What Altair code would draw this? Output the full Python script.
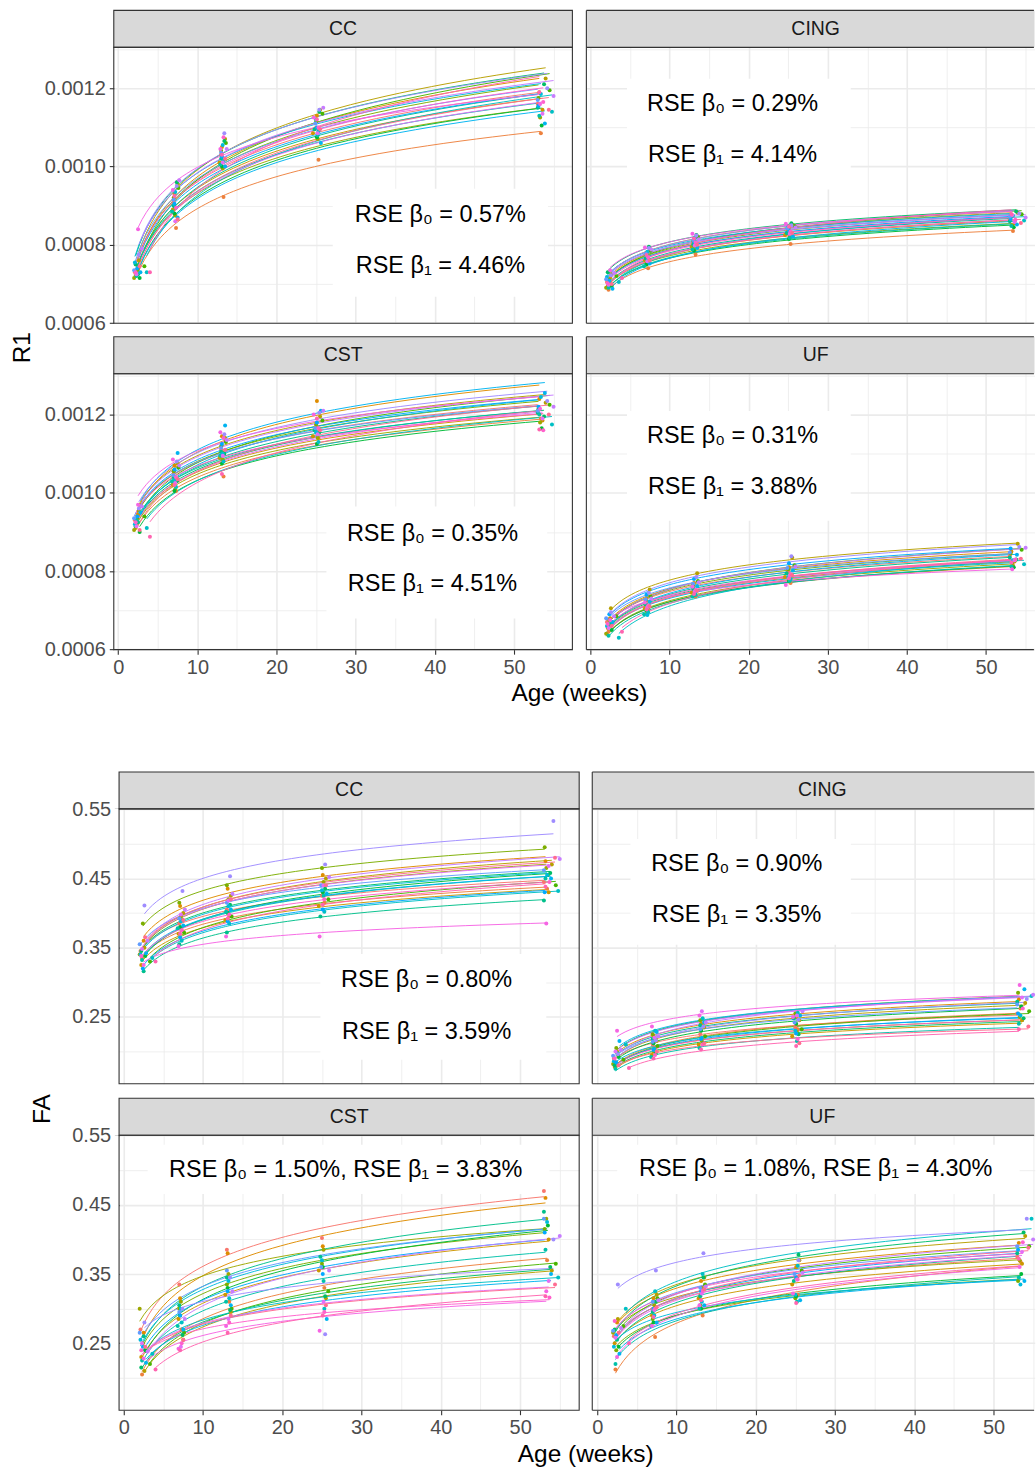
import math
import altair as alt
import pandas as pd

FONT = "Liberation Sans"
SUBJECTS = [f"S{i:02d}" for i in range(1, 25)]

# ages (weeks) of each subject at each visit
AGE_V1 = [2.1, 2.3, 2.5, 2.2, 2.6, 2.0, 2.4, 3.3, 2.7, 2.2, 2.5, 2.3, 3.6, 2.1, 2.8, 2.4, 2.0, 2.6, 3.0, 2.3, 2.5, 2.2, 4.0, 2.7]
AGE_V2 = [7.0, 7.3, 7.1, 6.9, 7.5, 7.2, 7.0, 7.6, 7.1, 7.4, 7.0, 6.8, 7.3, 7.2, 7.5, 7.1, 7.0, 7.4, 7.7, 7.2, 6.9, 7.3, 7.1, 7.5]
AGE_V3 = [13.0, 13.3, 13.1, 12.8, 13.5, 13.2, 13.0, 13.6, 13.1, 13.4, 13.0, 12.9, 13.3, 13.2, 13.5, 13.1, 13.0, 13.4, 13.7, 13.2, 12.9, 13.3, 13.1, 13.5]
AGE_V4 = [25.0, 25.3, 25.1, 24.6, 25.5, 25.2, 25.0, 25.8, 25.1, 25.4, 24.8, 25.2, 25.3, 25.0, 25.6, 25.1, 24.9, 25.4, 25.9, 25.2, 24.7, 25.3, 25.1, 25.5]
AGE_V5 = [53.0, 53.4, 53.2, 53.6, 54.0, 53.3, 53.1, 54.5, 53.5, 53.8, 53.0, 53.2, 54.8, 53.4, 53.9, 53.1, 53.0, 54.2, 55.0, 53.6, 53.3, 53.7, 53.2, 54.4]
VISIT_AGES = [AGE_V1, AGE_V2, AGE_V3, AGE_V4, AGE_V5]

# R1 values in units of 1e-4
R1_UNIT = 1e-4
R1_CC_V1 = [7.30, 7.25, 7.40, 7.20, 7.60, 7.15, 7.35, 7.45, 7.15, 7.50, 7.25, 7.20, 7.30, 7.55, 7.30, 7.40, 7.35, 7.75, 7.90, 7.25, 8.40, 7.30, 7.30, 7.45]
R1_CC_V2 = [9.10, 8.43, 9.30, 8.90, 9.55, 8.75, 9.20, 9.45, 8.80, 9.60, 9.00, 8.85, 8.95, 9.35, 8.70, 9.05, 9.15, 9.50, 9.65, 8.60, 9.40, 8.95, 9.25, 8.65]
R1_CC_V3 = [10.30, 9.22, 10.50, 10.10, 10.70, 9.95, 10.40, 10.60, 10.00, 10.65, 10.20, 10.05, 10.15, 10.55, 10.00, 10.25, 10.35, 10.85, 10.45, 10.10, 10.45, 10.75, 10.30, 10.20]
R1_CC_V4 = [11.00, 10.17, 11.30, 10.85, 11.45, 10.70, 11.15, 11.35, 10.75, 11.40, 10.95, 10.80, 10.90, 11.20, 10.60, 11.00, 11.10, 11.45, 11.50, 10.85, 11.25, 11.00, 11.20, 10.95]
R1_CC_V5 = [11.60, 10.85, 11.90, 11.45, 12.25, 11.25, 11.75, 11.95, 11.05, 12.10, 11.50, 11.30, 11.40, 11.85, 11.10, 11.55, 11.70, 12.00, 11.80, 11.35, 11.60, 11.65, 11.90, 11.45]

R1_CING_V1 = [7.05, 6.85, 7.15, 6.95, 7.25, 6.90, 7.10, 7.20, 6.95, 7.30, 7.00, 6.90, 7.05, 7.18, 6.88, 7.08, 7.12, 7.22, 7.28, 6.98, 7.35, 7.02, 7.15, 7.00]
R1_CING_V2 = [7.70, 7.40, 7.80, 7.60, 7.90, 7.55, 7.75, 7.85, 7.50, 7.95, 7.65, 7.45, 7.62, 7.82, 7.52, 7.72, 7.78, 7.92, 7.88, 7.58, 7.93, 7.68, 7.74, 7.60]
R1_CING_V3 = [8.05, 7.75, 8.15, 7.95, 8.22, 7.90, 8.10, 8.20, 7.85, 8.25, 8.00, 7.88, 8.02, 8.18, 7.92, 8.08, 8.12, 8.24, 8.14, 7.98, 8.28, 8.06, 8.16, 8.00]
R1_CING_V4 = [8.35, 8.02, 8.45, 8.25, 8.52, 8.20, 8.40, 8.48, 8.15, 8.55, 8.30, 8.18, 8.32, 8.46, 8.22, 8.36, 8.42, 8.50, 8.44, 8.28, 8.54, 8.34, 8.47, 8.30]
R1_CING_V5 = [8.65, 8.35, 8.75, 8.55, 8.82, 8.50, 8.70, 8.78, 8.45, 8.85, 8.60, 8.48, 8.62, 8.74, 8.52, 8.66, 8.72, 8.80, 8.70, 8.58, 8.76, 8.64, 8.79, 8.56]

R1_CST_V1 = [9.30, 9.20, 9.45, 9.10, 9.55, 9.05, 9.35, 9.40, 9.00, 9.15, 9.25, 9.30, 9.10, 9.20, 9.50, 9.40, 9.35, 9.60, 9.65, 9.15, 9.70, 9.25, 8.88, 9.05]
R1_CST_V2 = [10.50, 10.05, 10.70, 10.20, 10.75, 10.10, 10.55, 10.65, 10.05, 10.30, 10.40, 10.30, 10.15, 10.35, 11.02, 10.60, 10.45, 10.80, 10.70, 10.25, 10.85, 10.40, 10.20, 10.35]
R1_CST_V3 = [11.10, 10.42, 11.45, 10.90, 11.40, 10.85, 11.20, 11.30, 10.75, 11.00, 11.05, 10.95, 10.80, 11.00, 11.72, 11.25, 11.15, 11.50, 11.35, 10.95, 11.55, 11.40, 10.48, 11.10]
R1_CST_V4 = [11.70, 11.40, 12.35, 11.45, 11.95, 11.40, 11.75, 11.85, 11.25, 11.55, 11.60, 11.50, 11.30, 11.55, 12.10, 11.80, 11.65, 12.05, 12.10, 11.50, 12.00, 11.65, 11.90, 11.60]
R1_CST_V5 = [12.10, 11.90, 12.40, 11.85, 12.30, 11.80, 12.15, 12.25, 11.65, 11.95, 12.05, 12.00, 11.75, 12.45, 12.55, 12.20, 12.10, 12.35, 12.20, 11.90, 12.15, 11.60, 11.62, 12.00]

R1_UF_V1 = [6.70, 6.45, 6.80, 6.55, 7.05, 6.40, 6.75, 6.85, 6.50, 6.60, 6.65, 6.35, 6.30, 6.60, 6.70, 6.90, 6.80, 6.95, 6.85, 6.55, 6.75, 6.65, 6.45, 6.60]
R1_UF_V2 = [7.20, 7.00, 7.30, 7.05, 7.53, 6.95, 7.25, 7.35, 7.00, 7.10, 7.15, 6.90, 6.95, 6.88, 7.22, 7.40, 7.28, 7.45, 7.30, 7.08, 7.20, 7.12, 7.02, 7.10]
R1_UF_V3 = [7.60, 7.35, 7.70, 7.45, 7.95, 7.40, 7.65, 7.75, 7.40, 7.50, 7.55, 7.35, 7.40, 7.45, 7.62, 7.80, 7.68, 7.85, 7.72, 7.48, 7.60, 7.52, 7.42, 7.50]
R1_UF_V4 = [8.00, 7.70, 8.10, 7.85, 8.35, 7.80, 8.05, 8.15, 7.75, 7.90, 7.95, 7.75, 7.80, 7.85, 8.02, 8.20, 8.08, 8.38, 8.12, 7.88, 7.65, 7.92, 7.82, 7.90]
R1_UF_V5 = [8.40, 8.15, 8.50, 8.25, 8.70, 8.20, 8.45, 8.55, 8.10, 8.30, 8.35, 8.12, 8.18, 8.28, 8.42, 8.58, 8.48, 8.62, 8.60, 8.28, 8.05, 8.30, 8.22, 8.32]

FA_CC_V1 = [0.345, 0.335, 0.360, 0.325, 0.350, 0.340, 0.385, 0.330, 0.338, 0.345, 0.316, 0.332, 0.335, 0.340, 0.342, 0.320, 0.355, 0.411, 0.360, 0.348, 0.325, 0.338, 0.330, 0.365]
FA_CC_V2 = [0.385, 0.375, 0.410, 0.370, 0.400, 0.395, 0.415, 0.372, 0.380, 0.390, 0.355, 0.378, 0.360, 0.388, 0.382, 0.365, 0.392, 0.432, 0.405, 0.398, 0.352, 0.375, 0.370, 0.390]
FA_CC_V3 = [0.405, 0.395, 0.435, 0.390, 0.425, 0.420, 0.440, 0.395, 0.400, 0.412, 0.372, 0.402, 0.385, 0.410, 0.405, 0.388, 0.415, 0.453, 0.428, 0.418, 0.366, 0.398, 0.392, 0.420]
FA_CC_V4 = [0.425, 0.415, 0.455, 0.410, 0.450, 0.445, 0.465, 0.420, 0.430, 0.435, 0.395, 0.425, 0.402, 0.433, 0.428, 0.405, 0.440, 0.470, 0.452, 0.440, 0.366, 0.420, 0.412, 0.440]
FA_CC_V5 = [0.445, 0.435, 0.475, 0.430, 0.470, 0.465, 0.495, 0.440, 0.455, 0.458, 0.418, 0.450, 0.432, 0.455, 0.450, 0.430, 0.462, 0.533, 0.478, 0.468, 0.385, 0.445, 0.438, 0.480]

FA_CING_V1 = [0.190, 0.185, 0.200, 0.178, 0.195, 0.182, 0.205, 0.188, 0.192, 0.180, 0.198, 0.175, 0.210, 0.186, 0.215, 0.184, 0.194, 0.196, 0.202, 0.200, 0.230, 0.190, 0.176, 0.180]
FA_CING_V2 = [0.210, 0.205, 0.222, 0.195, 0.215, 0.200, 0.225, 0.208, 0.212, 0.198, 0.218, 0.192, 0.230, 0.204, 0.228, 0.202, 0.214, 0.216, 0.222, 0.220, 0.236, 0.195, 0.190, 0.200]
FA_CING_V3 = [0.225, 0.220, 0.240, 0.210, 0.235, 0.215, 0.245, 0.222, 0.230, 0.212, 0.238, 0.205, 0.248, 0.220, 0.242, 0.218, 0.232, 0.236, 0.242, 0.258, 0.252, 0.210, 0.203, 0.212]
FA_CING_V4 = [0.235, 0.232, 0.250, 0.222, 0.245, 0.228, 0.255, 0.232, 0.240, 0.225, 0.248, 0.215, 0.256, 0.230, 0.252, 0.226, 0.242, 0.246, 0.258, 0.252, 0.250, 0.218, 0.208, 0.212]
FA_CING_V5 = [0.255, 0.262, 0.275, 0.245, 0.270, 0.250, 0.285, 0.258, 0.265, 0.248, 0.272, 0.240, 0.280, 0.252, 0.290, 0.255, 0.268, 0.276, 0.282, 0.278, 0.296, 0.262, 0.232, 0.236]

FA_CST_V1 = [0.270, 0.205, 0.265, 0.230, 0.210, 0.300, 0.250, 0.220, 0.240, 0.215, 0.260, 0.225, 0.235, 0.255, 0.222, 0.245, 0.265, 0.280, 0.238, 0.250, 0.228, 0.240, 0.212, 0.245]
FA_CST_V2 = [0.335, 0.270, 0.315, 0.285, 0.255, 0.310, 0.300, 0.265, 0.290, 0.262, 0.305, 0.275, 0.280, 0.300, 0.270, 0.290, 0.295, 0.300, 0.285, 0.245, 0.242, 0.250, 0.240, 0.255]
FA_CST_V3 = [0.385, 0.310, 0.380, 0.320, 0.295, 0.350, 0.335, 0.300, 0.330, 0.298, 0.345, 0.310, 0.315, 0.340, 0.305, 0.325, 0.355, 0.345, 0.325, 0.285, 0.275, 0.280, 0.265, 0.290]
FA_CST_V4 = [0.402, 0.330, 0.390, 0.355, 0.315, 0.385, 0.365, 0.325, 0.360, 0.318, 0.375, 0.340, 0.300, 0.370, 0.285, 0.350, 0.360, 0.263, 0.355, 0.310, 0.268, 0.295, 0.290, 0.305]
FA_CST_V5 = [0.470, 0.370, 0.460, 0.400, 0.355, 0.430, 0.415, 0.365, 0.420, 0.360, 0.440, 0.385, 0.345, 0.425, 0.350, 0.410, 0.430, 0.400, 0.405, 0.340, 0.325, 0.316, 0.318, 0.335]

FA_UF_V1 = [0.260, 0.212, 0.280, 0.250, 0.285, 0.265, 0.240, 0.275, 0.245, 0.270, 0.255, 0.220, 0.300, 0.245, 0.235, 0.262, 0.268, 0.335, 0.272, 0.258, 0.230, 0.282, 0.250, 0.265]
FA_UF_V2 = [0.300, 0.259, 0.315, 0.290, 0.320, 0.305, 0.285, 0.315, 0.280, 0.310, 0.295, 0.275, 0.325, 0.290, 0.280, 0.300, 0.310, 0.355, 0.312, 0.298, 0.275, 0.300, 0.288, 0.302]
FA_UF_V3 = [0.320, 0.290, 0.340, 0.315, 0.345, 0.330, 0.305, 0.335, 0.300, 0.345, 0.318, 0.300, 0.350, 0.310, 0.305, 0.325, 0.330, 0.380, 0.332, 0.322, 0.305, 0.326, 0.312, 0.328]
FA_UF_V4 = [0.345, 0.320, 0.360, 0.335, 0.370, 0.345, 0.315, 0.355, 0.318, 0.378, 0.340, 0.310, 0.362, 0.320, 0.312, 0.345, 0.350, 0.370, 0.352, 0.342, 0.322, 0.342, 0.308, 0.348]
FA_UF_V5 = [0.375, 0.368, 0.395, 0.365, 0.405, 0.370, 0.340, 0.390, 0.350, 0.410, 0.380, 0.345, 0.430, 0.335, 0.340, 0.385, 0.390, 0.430, 0.400, 0.382, 0.360, 0.396, 0.372, 0.388]

PANELS = {
    ("R1", "CC"): [R1_CC_V1, R1_CC_V2, R1_CC_V3, R1_CC_V4, R1_CC_V5],
    ("R1", "CING"): [R1_CING_V1, R1_CING_V2, R1_CING_V3, R1_CING_V4, R1_CING_V5],
    ("R1", "CST"): [R1_CST_V1, R1_CST_V2, R1_CST_V3, R1_CST_V4, R1_CST_V5],
    ("R1", "UF"): [R1_UF_V1, R1_UF_V2, R1_UF_V3, R1_UF_V4, R1_UF_V5],
    ("FA", "CC"): [FA_CC_V1, FA_CC_V2, FA_CC_V3, FA_CC_V4, FA_CC_V5],
    ("FA", "CING"): [FA_CING_V1, FA_CING_V2, FA_CING_V3, FA_CING_V4, FA_CING_V5],
    ("FA", "CST"): [FA_CST_V1, FA_CST_V2, FA_CST_V3, FA_CST_V4, FA_CST_V5],
    ("FA", "UF"): [FA_UF_V1, FA_UF_V2, FA_UF_V3, FA_UF_V4, FA_UF_V5],
}

# annotations: box (x0, x1, y0, y1) and text lines (x, y, label); R1 y in 1e-4 units
ANNOT = {
    ("R1", "CC"): ((27.1, 54.3, 6.67, 9.43), [(40.7, 8.76, "RSE β₀ = 0.57%"), (40.7, 7.46, "RSE β₁ = 4.46%")]),
    ("R1", "CING"): ((4.63, 32.9, 9.41, 12.24), [(17.97, 11.59, "RSE β₀ = 0.29%"), (17.97, 10.29, "RSE β₁ = 4.14%")]),
    ("R1", "CST"): ((26.3, 54.2, 6.79, 9.65), [(39.7, 8.94, "RSE β₀ = 0.35%"), (39.7, 7.67, "RSE β₁ = 4.51%")]),
    ("R1", "UF"): ((4.63, 32.9, 9.29, 12.09), [(17.97, 11.46, "RSE β₀ = 0.31%"), (17.97, 10.16, "RSE β₁ = 3.88%")]),
    ("FA", "CC"): ((24.8, 53.3, 0.1882, 0.3408), [(38.2, 0.3037, "RSE β₀ = 0.80%"), (38.2, 0.2282, "RSE β₁ = 3.59%")]),
    ("FA", "CING"): ((4.19, 32.0, 0.3542, 0.5071), [(17.6, 0.4706, "RSE β₀ = 0.90%"), (17.6, 0.3975, "RSE β₁ = 3.35%")]),
    ("FA", "CST"): ((3.0, 53.7, 0.4655, 0.5366), [(28.0, 0.4996, "RSE β₀ = 1.50%, RSE β₁ = 3.83%")]),
    ("FA", "UF"): ((2.52, 53.3, 0.4655, 0.5366), [(27.56, 0.501, "RSE β₀ = 1.08%, RSE β₁ = 4.30%")]),
}

X_VALUES = [0, 5, 10, 15, 20, 25, 30, 35, 40, 45, 50, 55]
R1_TICKS = [0.0006, 0.0007, 0.0008, 0.0009, 0.001, 0.0011, 0.0012, 0.0013]
FA_TICKS = [0.2, 0.25, 0.3, 0.35, 0.4, 0.45, 0.5, 0.55]

# panel geometry: left column (width incl. shift, x-domain), right column (width, x-domain)
FIG = {
    "R1": dict(h=276.5, ydom=[0.0005995, 0.0013045], yvals=R1_TICKS,
               ytest="round(datum.value*10000) % 2 === 0", yfmt=".4f",
               shift=0.0, wl=459.5, xdl=[-0.567, 57.38], wr=449.0, xdr=[-0.5, 56.12],
               col_gap=13.5, row_gap=50),
    "FA": dict(h=275.5, ydom=[0.1533, 0.5505], yvals=FA_TICKS,
               ytest="round(datum.value*100) % 10 === 5", yfmt=".2f",
               shift=5.3, wl=466.3, xdl=[-1.2675, 57.45], wr=443.3, xdr=[-0.63, 55.2],
               col_gap=12.4, row_gap=51),
}
LEFT_ROOM = 113
TICK_FONT = 20


def hcl_hex(h, c=100.0, l=65.0):
    hr = math.radians(h)
    u, v = c * math.cos(hr), c * math.sin(hr)
    Xn, Yn, Zn = 95.047, 100.0, 108.883
    un = 4 * Xn / (Xn + 15 * Yn + 3 * Zn)
    vn = 9 * Yn / (Xn + 15 * Yn + 3 * Zn)
    Y = Yn * ((l + 16) / 116) ** 3
    up, vp = u / (13 * l) + un, v / (13 * l) + vn
    X = Y * 9 * up / (4 * vp)
    Z = Y * (12 - 3 * up - 20 * vp) / (4 * vp)
    X, Y, Z = X / 100, Y / 100, Z / 100
    rgb = [3.2404542 * X - 1.5371385 * Y - 0.4985314 * Z,
           -0.9692660 * X + 1.8760108 * Y + 0.0415560 * Z,
           0.0556434 * X - 0.2040259 * Y + 1.0572252 * Z]
    out = []
    for ch in rgb:
        ch = 12.92 * ch if ch <= 0.0031308 else 1.055 * ch ** (1 / 2.4) - 0.055
        out.append(int(round(min(max(ch, 0), 1) * 255)))
    return "#%02X%02X%02X" % tuple(out)


COLORS = [hcl_hex(15 + 360 * i / len(SUBJECTS)) for i in range(len(SUBJECTS))]
CSCALE = alt.Scale(domain=SUBJECTS, range=COLORS)

TABLES = {}
for (measure, tract), visits in PANELS.items():
    k = R1_UNIT if measure == "R1" else 1.0
    rows = []
    for ages, vals in zip(VISIT_AGES, visits):
        for s, a, v in zip(SUBJECTS, ages, vals):
            rows.append({"subject": s, "age": a, "value": v * k})
    TABLES[(measure, tract)] = pd.DataFrame(rows)

GRID = "#EBEBEB"
EDGE = "#333333"
STRIP_H = 37
ONE = pd.DataFrame({"a": [0]})


def pixel_text(text, x, y, angle=0, size=24.5):
    return alt.Chart(pd.DataFrame({"t": [text]})).mark_text(
        font=FONT, fontSize=size, color="black", angle=angle, align="center", baseline="middle"
    ).encode(x=alt.value(x), y=alt.value(y), text="t:N")


def px_rect(x, x2, y, y2, **kw):
    return alt.Chart(ONE).mark_rect(**kw).encode(
        x=alt.value(x), x2=alt.value(x2), y=alt.value(y), y2=alt.value(y2))


def px_rule(x, x2, y, y2):
    return alt.Chart(ONE).mark_rule(color=EDGE, strokeWidth=1.1).encode(
        x=alt.value(x), x2=alt.value(x2), y=alt.value(y), y2=alt.value(y2))


def make_panel(measure, tract, col, row, extras=()):
    f = FIG[measure]
    H = f["h"]
    k = R1_UNIT if measure == "R1" else 1.0
    if col == 0:
        W, xdom, shift = f["wl"], f["xdl"], f["shift"]
    else:
        W, xdom, shift = f["wr"], f["xdr"], 0.0
    xs = alt.Scale(domain=xdom, nice=False, zero=False)
    ys = alt.Scale(domain=f["ydom"], nice=False, zero=False)
    xtest = "datum.value % 10 === 0"
    xaxis = alt.Axis(
        values=X_VALUES, title=None, domain=False, grid=True, gridColor=GRID,
        gridWidth={"condition": {"test": xtest, "value": 1.6}, "value": 0.8},
        labels=(row == 1), ticks=(row == 1),
        labelExpr=f"{xtest} ? datum.label : ''", labelFont=FONT, labelFontSize=TICK_FONT,
        labelColor="#4D4D4D", labelPadding=3, labelOverlap=False, labelFlush=False,
        tickColor=EDGE, tickSize=4.5, tickWidth=1.1,
        tickOpacity={"condition": {"test": xtest, "value": 1}, "value": 0},
    )
    ytest = f["ytest"]
    yaxis = alt.Axis(
        values=f["yvals"], title=None, domain=False, grid=True, gridColor=GRID,
        gridWidth={"condition": {"test": ytest, "value": 1.6}, "value": 0.8},
        labels=(col == 0), ticks=(col == 0), offset=-shift,
        labelExpr=f"{ytest} ? format(datum.value, '{f['yfmt']}') : ''", labelFont=FONT,
        labelFontSize=TICK_FONT, labelColor="#4D4D4D", labelPadding=4, labelOverlap=False,
        labelFlush=False, tickColor=EDGE, tickSize=4.5, tickWidth=1.1,
        tickOpacity={"condition": {"test": ytest, "value": 1}, "value": 0},
    )
    X = lambda fld: alt.X(fld, type="quantitative", scale=xs, axis=xaxis)
    Y = lambda fld: alt.Y(fld, type="quantitative", scale=ys, axis=yaxis)

    strip_df = pd.DataFrame({"label": [tract]})
    full_w = f["wl"] - f["shift"]
    strip_text = alt.Chart(strip_df).mark_text(
        font=FONT, fontSize=19.5, color="#1A1A1A", baseline="middle", align="center"
    ).encode(x=alt.value(shift + full_w / 2), y=alt.value(-STRIP_H / 2), text="label:N")

    if col == 0:
        frame = []
        if shift > 0:
            frame.append(px_rect(0, shift + 0.01, 0, H, fill="white"))
        frame += [
            px_rect(shift, W, -STRIP_H, 0, fill="#D9D9D9", stroke=EDGE, strokeWidth=1.1),
            px_rect(shift, W, 0, H, fillOpacity=0, stroke=EDGE, strokeWidth=1.1),
        ]
    else:
        frame = [
            px_rect(0, W, -STRIP_H, 0, fill="#D9D9D9"),
            px_rule(0, W - 0.6, -STRIP_H, -STRIP_H),
            px_rule(0, W - 0.6, 0, 0),
            px_rule(0, W - 0.6, H, H),
            px_rule(0, 0, -STRIP_H, H),
        ]

    (bx0, bx1, by0, by1), lines_ = ANNOT[(measure, tract)]
    box = alt.Chart(pd.DataFrame([{"x0": bx0, "x1": bx1, "y0": by0 * k, "y1": by1 * k}])).mark_rect(
        fill="white"
    ).encode(x=X("x0"), x2="x1", y=Y("y0"), y2="y1")
    ann = alt.Chart(pd.DataFrame([{"ax": a, "ay": b * k, "txt": t} for a, b, t in lines_])).mark_text(
        font=FONT, fontSize=23.5, color="black", align="center", baseline="middle"
    ).encode(x=X("ax"), y=Y("ay"), text="txt:N")

    base = alt.Chart(TABLES[(measure, tract)])
    curves = base.transform_regression(
        "age", "value", groupby=["subject"], method="log"
    ).mark_line(strokeWidth=0.95).encode(
        x=X("age"), y=Y("value"), color=alt.Color("subject:N", scale=CSCALE, legend=None)
    )
    pts = base.mark_circle(size=16, opacity=1).encode(
        x=X("age"), y=Y("value"), color=alt.Color("subject:N", scale=CSCALE, legend=None)
    )
    layers = [box, ann, curves, pts] + frame + [strip_text] + list(extras)
    return alt.layer(*layers).properties(width=W, height=H)


def figure(measure, top_room, bottom_room, ytitle_x, ytitle_y, xtitle_x, xtitle_y):
    f = FIG[measure]
    H = f["h"]
    # invisible frames fixing the space each figure takes on the page
    top_left_room = px_rect(-LEFT_ROOM, 0, -top_room, 0, opacity=0)
    cc = make_panel(measure, "CC", 0, 0, extras=(
        top_left_room, pixel_text(measure, ytitle_x, ytitle_y, angle=270)))
    cing = make_panel(measure, "CING", 1, 0)
    bottom = (px_rect(-LEFT_ROOM, 0, H, H + bottom_room, opacity=0),) if bottom_room else ()
    cst = make_panel(measure, "CST", 0, 1, extras=bottom + (pixel_text("Age (weeks)", xtitle_x, xtitle_y),))
    uf = make_panel(measure, "UF", 1, 1)
    return alt.concat(
        cc, cing, cst, uf, columns=2, bounds="flush",
        spacing={"row": f["row_gap"], "column": f["col_gap"]},
    )


r1_fig = figure("R1", 45, 119.7, -90.8, 301, 466.5, 320.5)
fa_fig = figure("FA", 38, 0, -70.5, 300.8, 472.8, 320.8)

chart = alt.vconcat(r1_fig, fa_fig, spacing=0, padding=0).configure_view(stroke="transparent")

chart.save("out.html", embed_options={"renderer": "svg", "actions": False})
